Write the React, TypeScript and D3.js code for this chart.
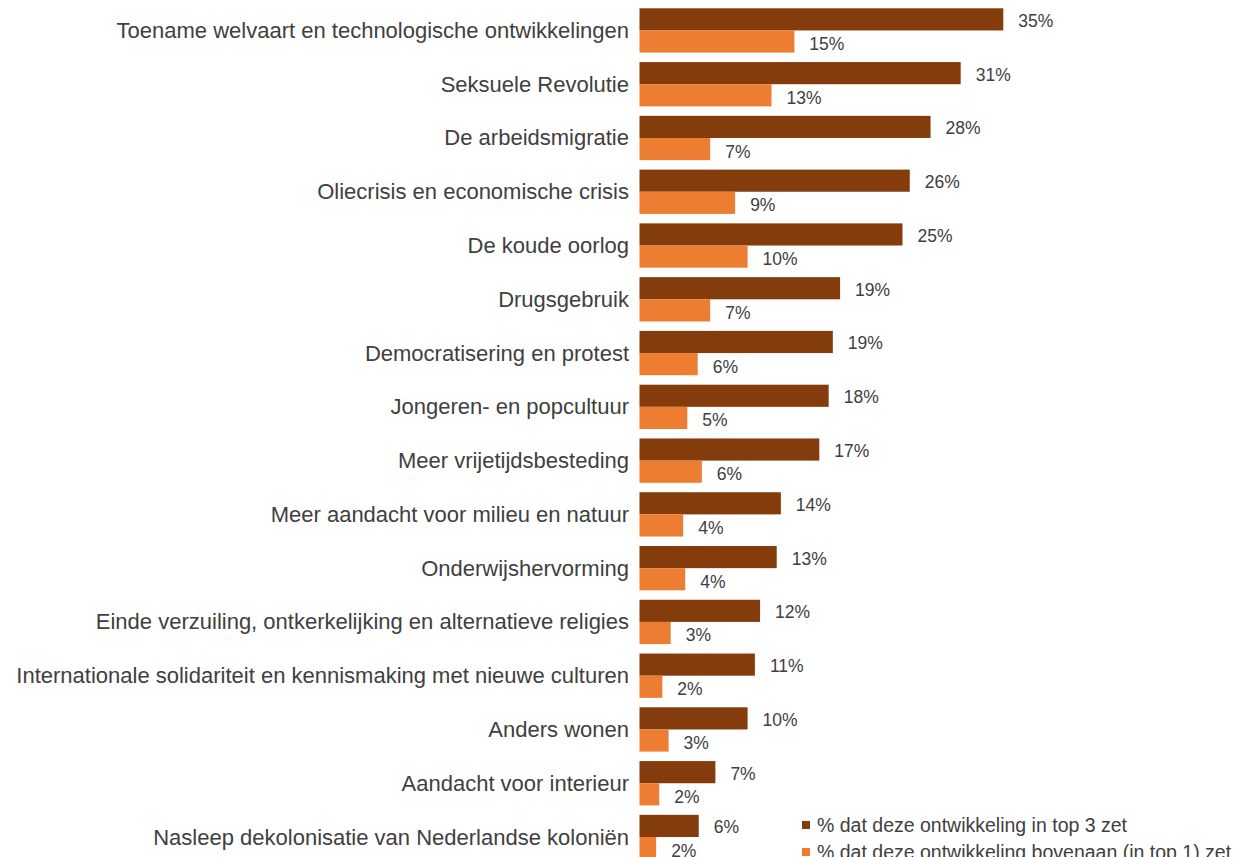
import React from 'react';
import * as d3 from 'd3';

// categories, top to bottom
const categories = [
  'Toename welvaart en technologische ontwikkelingen',
  'Seksuele Revolutie',
  'De arbeidsmigratie',
  'Oliecrisis en economische crisis',
  'De koude oorlog',
  'Drugsgebruik',
  'Democratisering en protest',
  'Jongeren- en popcultuur',
  'Meer vrijetijdsbesteding',
  'Meer aandacht voor milieu en natuur',
  'Onderwijshervorming',
  'Einde verzuiling, ontkerkelijking en alternatieve religies',
  'Internationale solidariteit en kennismaking met nieuwe culturen',
  'Anders wonen',
  'Aandacht voor interieur',
  'Nasleep dekolonisatie van Nederlandse koloniën',
];

// % dat deze ontwikkeling in top 3 zet
const top3 = [35.0, 30.9, 28.0, 26.0, 25.3, 19.3, 18.6, 18.2, 17.3, 13.6, 13.2, 11.6, 11.1, 10.4, 7.3, 5.7];
// % dat deze ontwikkeling bovenaan (in top 1) zet
const top1 = [14.9, 12.7, 6.8, 9.2, 10.4, 6.8, 5.6, 4.6, 6.0, 4.2, 4.4, 3.0, 2.2, 2.8, 1.9, 1.6];

const seriesKeys = ['top3', 'top1'];
const seriesLabels = [
  '% dat deze ontwikkeling in top 3 zet',
  '% dat deze ontwikkeling bovenaan (in top 1) zet',
];
const seriesColors = ['#843C0C', '#ED7D31'];

const width = 1251;
const height = 857;
const font = "'Liberation Sans', Arial, sans-serif";

export default function App() {
  const x = d3.scaleLinear().domain([0, 35]).range([639.5, 1003.3]);

  const step = 53.77;
  const y = d3.scaleBand<string>()
    .domain(categories)
    .range([8.3 - step * 0.088, 8.3 - step * 0.088 + step * categories.length])
    .paddingInner(0.176)
    .paddingOuter(0.088);

  const sub = d3.scaleBand<string>()
    .domain(seriesKeys)
    .range([0, y.bandwidth()]);

  const values = [top3, top1];
  const textColor = '#404040';

  return (
    <svg
      width={width}
      height={height}
      style={{ position: 'absolute', left: 0, top: 0, display: 'block', background: '#fff' }}
    >
      {categories.map((c, i) => {
        const y0 = y(c) as number;
        return (
          <g key={c}>
            <text
              x={629}
              y={y0 + y.bandwidth() / 2}
              textAnchor="end"
              dominantBaseline="central"
              fontFamily={font}
              fontSize={22}
              fill={textColor}
            >
              {c}
            </text>
            {seriesKeys.map((k, j) => {
              const v = values[j][i];
              const by = y0 + (sub(k) as number);
              return (
                <g key={k}>
                  <rect
                    x={x(0)}
                    y={by}
                    width={x(v) - x(0)}
                    height={sub.bandwidth()}
                    fill={seriesColors[j]}
                  />
                  <text
                    x={x(v) + 15}
                    y={by + sub.bandwidth() / 2 + (j === 0 ? 1.5 : 2.5)}
                    dominantBaseline="central"
                    fontFamily={font}
                    fontSize={17.5}
                    fill={textColor}
                  >
                    {Math.round(v)}%
                  </text>
                </g>
              );
            })}
          </g>
        );
      })}
      {/* legend */}
      {seriesLabels.map((l, j) => (
        <g key={l} transform={`translate(802,${825 + j * 27})`}>
          <rect x={0} y={-4} width={8} height={8} fill={seriesColors[j]} />
          <text
            x={15}
            y={0}
            dominantBaseline="central"
            fontFamily={font}
            fontSize={19.5}
            fill={textColor}
          >
            {l}
          </text>
        </g>
      ))}
    </svg>
  );
}
